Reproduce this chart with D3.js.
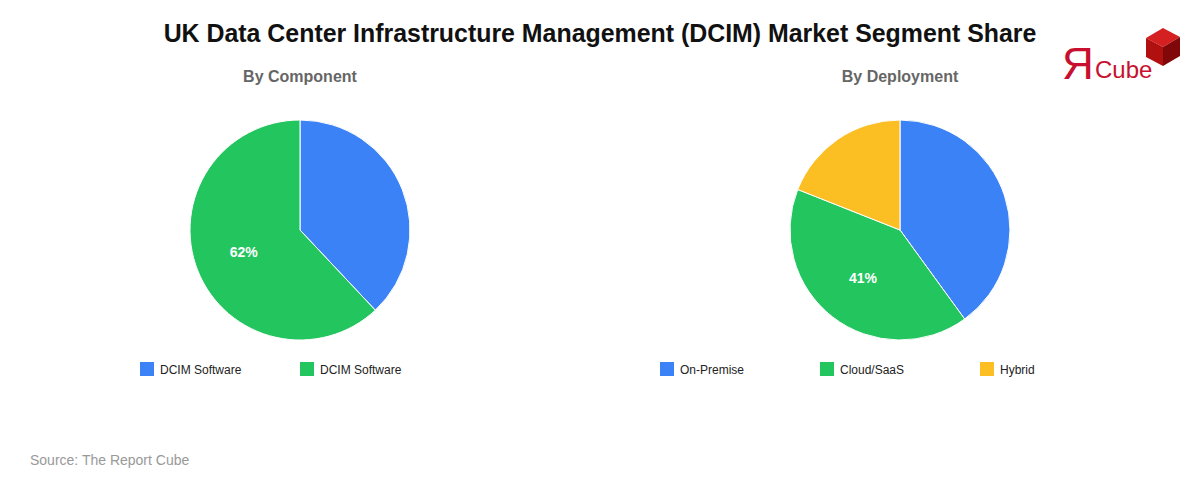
<!DOCTYPE html>
<html><head><meta charset="utf-8">
<script src="https://cdn.jsdelivr.net/npm/d3@7"></script>
<style>body{margin:0;background:#fff;font-family:Arial,"Liberation Sans",sans-serif}</style>
</head><body><svg id="c" width="1200" height="480"></svg>
<script>
const componentLabels = ["DCIM Software", "DCIM Software"];
const componentValues = [38, 62];
const deploymentLabels = ["On-Premise", "Cloud/SaaS", "Hybrid"];
const deploymentValues = [40, 41, 19];
const colors = ["#3b82f6", "#22c55e", "#fbbf24"];

const svg = d3.select("#c");
svg.append("text").attr("x",600).attr("y",42).attr("text-anchor","middle")
  .attr("font-size",24.9).attr("font-weight","bold").attr("fill","#111")
  .text("UK Data Center Infrastructure Management (DCIM) Market Segment Share");
svg.append("text").attr("x",30).attr("y",465).attr("font-size",14).attr("fill","#999").text("Source: The Report Cube");

// logo
const lg = svg.append("g");
lg.append("text").attr("x",1062).attr("y",79).attr("font-size",44).attr("fill","#c8102e").attr("font-family","Liberation Sans, Arial").text("Я");
lg.append("text").attr("x",1095).attr("y",78).attr("font-size",24).attr("fill","#c8102e").text("Cube");
lg.append("polygon").attr("points","1146,38 1163,28 1180,37 1163,47").attr("fill","#d42020");
lg.append("polygon").attr("points","1146,38 1163,47 1163,66 1146,57").attr("fill","#b01010");
lg.append("polygon").attr("points","1163,47 1180,37 1180,56 1163,66").attr("fill","#800808");

function pieChart(cx, title, labels, values, legendX) {
  svg.append("text").attr("x",cx).attr("y",82).attr("text-anchor","middle")
    .attr("font-size",16).attr("font-weight","bold").attr("fill","#666").text(title);
  const r = 110;
  const g = svg.append("g").attr("transform",`translate(${cx},230)`);
  const arcs = d3.pie().sort(null)(values);
  const arc = d3.arc().innerRadius(0).outerRadius(r);
  g.selectAll("path").data(arcs).join("path").attr("d",arc)
    .attr("fill",(d,i)=>colors[i]).attr("stroke","#fff").attr("stroke-width",1);
  const maxI = values.indexOf(d3.max(values));
  const la = d3.arc().innerRadius(r*0.55).outerRadius(r*0.55);
  const c = la.centroid(arcs[maxI]);
  g.append("text").attr("x",c[0]).attr("y",c[1]+5).attr("text-anchor","middle")
    .attr("font-size",14).attr("font-weight","bold").attr("fill","#fff").text(values[maxI]+"%");
  labels.forEach((l,i)=>{
    const x = legendX[i];
    svg.append("rect").attr("x",x).attr("y",362).attr("width",14).attr("height",14).attr("fill",colors[i]);
    svg.append("text").attr("x",x+20).attr("y",374).attr("font-size",12).attr("fill","#222").text(l);
  });
}
pieChart(300,"By Component",componentLabels,componentValues,[140,300]);
pieChart(900,"By Deployment",deploymentLabels,deploymentValues,[660,820,980]);
</script></body></html>
